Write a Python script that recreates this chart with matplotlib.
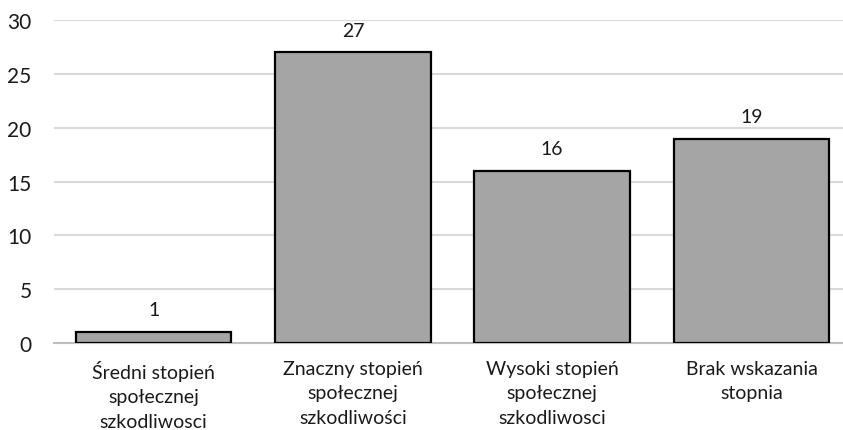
import numpy as np
import matplotlib.pyplot as plt

plt.rcParams['font.family'] = ['Lato', 'DejaVu Sans']

categories = ["Średni stopień\nspołecznej\nszkodliwosci",
              "Znaczny stopień\nspołecznej\nszkodliwości",
              "Wysoki stopień\nspołecznej\nszkodliwosci",
              "Brak wskazania\nstopnia"]
values = [1, 27, 16, 19]
yticks = [0, 5, 10, 15, 20, 25, 30]

fig = plt.figure(figsize=(8.43, 4.31), dpi=100)
ax = fig.add_axes([0.064, 0.2019, 0.936, 0.749])

x = np.arange(len(categories))
ax.bar(x, values, width=0.78, color='#A5A5A5', edgecolor='black',
       linewidth=1.6, zorder=3)

for xi, v in zip(x, values):
    ax.annotate(str(v), (xi, v), xytext=(0, 10), textcoords='offset points',
                ha='center', va='bottom', fontsize=14, color='#1a1a1a')

ax.set_xlim(-0.5, 3.459)
ax.set_ylim(0, 30)
ax.set_yticks(yticks)
ax.set_xticks(x)
ax.set_xticklabels(categories, fontsize=14, linespacing=1.55, color='#1a1a1a')
ax.tick_params(axis='y', length=0, pad=16, labelsize=15, labelcolor='#1a1a1a')
ax.tick_params(axis='x', length=0, pad=12)
ax.yaxis.grid(True, color='#D9D9D9', linewidth=1.5, zorder=0)

for side in ['top', 'right', 'left']:
    ax.spines[side].set_visible(False)
ax.spines['bottom'].set_color('#BFBFBF')
ax.spines['bottom'].set_linewidth(1.5)

fig.savefig('out.png', dpi=100)
